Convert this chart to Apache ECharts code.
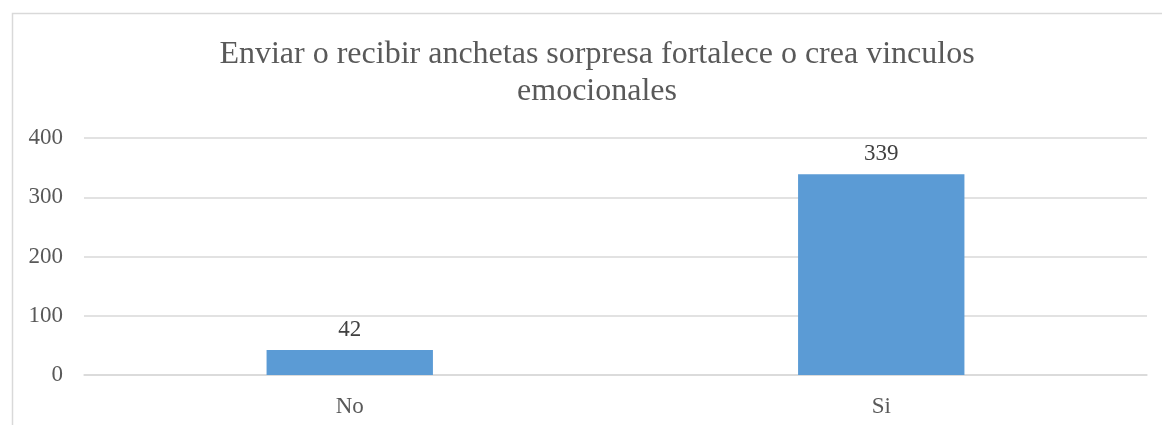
<!DOCTYPE html>
<html><head><meta charset="utf-8">
<script src="https://cdn.jsdelivr.net/npm/echarts@6/dist/echarts.min.js"></script>
<style>html,body{margin:0;padding:0;background:#fff}#c{width:1162px;height:425px}</style>
</head><body><div id="c"></div>
<script>
const titleText = "Enviar o recibir anchetas sorpresa fortalece o crea vinculos\nemocionales";
const categories = ["No", "Si"];
const values = [42, 339];
const yTicks = { min: 0, max: 400, interval: 100 };

const chart = echarts.init(document.getElementById('c'));
const serif = '"Liberation Serif", "Times New Roman", serif';
chart.setOption({
  animation: false,
  backgroundColor: '#fff',
  graphic: [{
    type: 'rect', left: 10, top: 11,
    shape: { width: 1200, height: 500 },
    style: { fill: 'none', stroke: '#d9d9d9', lineWidth: 1.5 },
    silent: true
  }],
  title: {
    text: titleText, left: 592, top: 31, textAlign: 'center',
    textStyle: { fontFamily: serif, fontSize: 32, fontWeight: 'normal', color: '#595959', lineHeight: 37 }
  },
  grid: { left: 84, right: 15, top: 138, bottom: 50, containLabel: false },
  xAxis: {
    type: 'category', data: categories,
    axisLine: { lineStyle: { color: '#d9d9d9', width: 1.5 } },
    axisTick: { show: false },
    axisLabel: { fontFamily: serif, fontSize: 23, color: '#595959', margin: 20 }
  },
  yAxis: {
    type: 'value', min: yTicks.min, max: yTicks.max, interval: yTicks.interval,
    axisLine: { show: false }, axisTick: { show: false },
    splitLine: { lineStyle: { color: '#d9d9d9', width: 1.5 } },
    axisLabel: { fontFamily: serif, fontSize: 23, color: '#595959', margin: 21 }
  },
  series: [{
    type: 'bar', data: values, barWidth: '31.3%',
    itemStyle: { color: '#5b9bd5' },
    label: { show: true, position: 'top', distance: 9, fontFamily: serif, fontSize: 23, color: '#404040' }
  }]
});
</script></body></html>
